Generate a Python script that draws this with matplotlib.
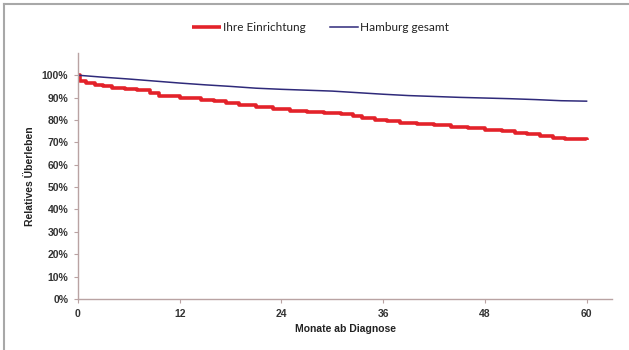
import matplotlib.pyplot as plt
from matplotlib.lines import Line2D
from matplotlib.ticker import PercentFormatter

# Überlebenskurven (Monate ab Diagnose, relatives Überleben)
red_months = [0, 0.2, 1, 2, 3, 4, 5.5, 7, 8.5, 9.5, 12, 14.5, 16, 17.5, 19, 21, 23, 25,
              27, 29, 31, 32.5, 33.5, 35, 36.5, 38, 40, 42, 44, 46, 48, 50, 51.5, 53,
              54.5, 56, 57.5, 60]
red_values = [1.0, 0.975, 0.965, 0.958, 0.952, 0.945, 0.94, 0.933, 0.92, 0.905, 0.898,
              0.89, 0.883, 0.876, 0.866, 0.856, 0.848, 0.84, 0.835, 0.83, 0.826, 0.818,
              0.81, 0.8, 0.795, 0.788, 0.782, 0.777, 0.77, 0.762, 0.756, 0.75, 0.742,
              0.735, 0.728, 0.72, 0.713, 0.71]

blue_months = [0, 3, 6, 9, 12, 15, 18, 21, 24, 27, 30, 33, 36, 39, 42, 45, 48, 51, 54, 57, 60]
blue_values = [1.0, 0.991, 0.983, 0.974, 0.965, 0.957, 0.95, 0.942, 0.937, 0.933, 0.929,
               0.922, 0.915, 0.909, 0.905, 0.901, 0.898, 0.895, 0.891, 0.886, 0.884]

x_ticks = [0, 12, 24, 36, 48, 60]
y_ticks = [0, 0.1, 0.2, 0.3, 0.4, 0.5, 0.6, 0.7, 0.8, 0.9, 1.0]

fig = plt.figure(figsize=(6.29, 3.5), dpi=100)
ax = fig.add_axes([0.124, 0.146, 0.849, 0.703])

ax.plot(red_months, red_values, drawstyle='steps-post', color='#e3222a', lw=2.6,
        label='Ihre Einrichtung', solid_capstyle='butt')
ax.plot(blue_months, blue_values, color='#2f2a7a', lw=1.1,
        label='Hamburg gesamt')

ax.set_xlim(0, 63)
ax.set_ylim(0, 1.1)
ax.set_xticks(x_ticks)
ax.set_yticks(y_ticks)
ax.yaxis.set_major_formatter(PercentFormatter(1.0, decimals=0))

for side in ['top', 'right']:
    ax.spines[side].set_visible(False)
for side in ['left', 'bottom']:
    ax.spines[side].set_color('#b9a3a3')
    ax.spines[side].set_linewidth(1.0)

ax.tick_params(axis='both', colors='#b9a3a3', length=3, width=0.8, labelcolor='#333333',
               labelsize=7.5)
ax.tick_params(axis='y', pad=4)
ax.tick_params(axis='x', pad=4)
for lbl in ax.get_xticklabels() + ax.get_yticklabels():
    lbl.set_fontfamily('Liberation Sans')
    lbl.set_fontweight('bold')

ax.set_xlabel('Monate ab Diagnose', fontsize=7.5, fontweight='bold',
              fontfamily='Liberation Sans', color='#222222', labelpad=4)
ax.set_ylabel('Relatives Überleben', fontsize=7.5, fontweight='bold',
              fontfamily='Liberation Sans', color='#222222', labelpad=5)

leg = fig.legend(loc='center', bbox_to_anchor=(0.51, 0.922), ncol=2, frameon=False,
                 handlelength=2.4, handletextpad=0.2, columnspacing=2.0,
                 prop={'family': 'Lato', 'size': 8.5})
for t in leg.get_texts():
    t.set_color('#222222')

# grauer Rahmen links und oben
fig.add_artist(Line2D([4 / 629, 4 / 629], [0, 1 - 4 / 350], transform=fig.transFigure,
                      color='#a8a8a8', lw=1.5))
fig.add_artist(Line2D([4 / 629, 1], [1 - 4 / 350, 1 - 4 / 350], transform=fig.transFigure,
                      color='#a8a8a8', lw=1.5))

fig.savefig('out.png', dpi=100)
